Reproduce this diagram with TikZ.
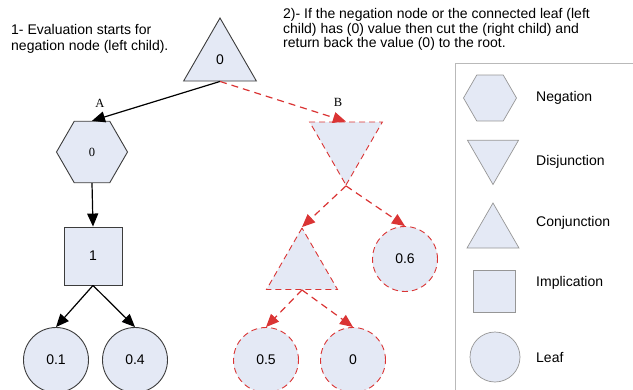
\documentclass[tikz,border=0pt]{standalone}
\usepackage{fontspec}
\setmainfont{Liberation Sans}
\newfontfamily\serifA{Liberation Serif}
\usetikzlibrary{shapes.geometric,arrows.meta}
\definecolor{nodefill}{RGB}{228,233,245}
\definecolor{nodeline}{RGB}{60,60,60}
\definecolor{cutred}{RGB}{218,52,52}
\definecolor{legline}{RGB}{150,150,150}
\definecolor{boxline}{RGB}{185,185,185}
\begin{document}
\begin{tikzpicture}[x=1pt,y=-1pt,
  every node/.style={font=\fontsize{14}{16}\selectfont},
  base/.style={fill=nodefill, draw=nodeline, line width=0.9pt, inner sep=0pt},
  cut/.style={base, draw=cutred, dash pattern=on 6pt off 4pt},
  leg/.style={fill=nodefill, draw=legline, line width=0.7pt, inner sep=0pt},
  hexa/.style={regular polygon, regular polygon sides=6, minimum size=71pt},
  tri/.style={regular polygon, regular polygon sides=3, minimum size=84pt},
  itri/.style={tri, shape border rotate=180},
  sqr/.style={rectangle, minimum size=58pt},
  leaf/.style={circle, minimum size=65pt},
  blk/.style={-{Triangle[length=13pt,width=11pt]}, line width=1.2pt, black},
  red/.style={-{Triangle[length=13pt,width=11pt]}, line width=1.2pt, cutred, dash pattern=on 7pt off 5pt},
  legtext/.style={anchor=west, inner sep=0pt},
  serifl/.style={font=\serifA\fontsize{12.5}{14}\selectfont}
]
\useasboundingbox (0,0) rectangle (633,389);
\clip (0,0) rectangle (633,389);

% texts
\node[anchor=north west, align=left, inner sep=0pt] (t1) at (11,24)
  {1- Evaluation starts for\\negation node (left child).};
\node[anchor=north west, align=left, inner sep=0pt, font=\fontsize{14}{14.8}\selectfont] (t2) at (283,8)
  {2)- If the negation node or the connected leaf (left\\child) has (0) value then cut the (right child) and\\return back the value (0) to the root.};

% left tree
\node[base, tri] (root) at (220,60) {0};
\node[base, hexa, serifl] (neg) at (92,152) {0};
\node[base, sqr] (imp) at (93,256) {1};
\node[base, leaf] (l1) at (56,360) {0.1};
\node[base, leaf] (l4) at (135,360) {0.4};

% right tree
\node[cut, itri, minimum size=84pt] (dis) at (346,143) {};
\node[cut, tri, minimum size=82pt] (con) at (302,269) {};
\node[cut, leaf] (l6) at (405,259) {0.6};
\node[cut, leaf] (l5) at (266,360) {0.5};
\node[cut, leaf] (l0) at (353,360) {0};

% labels
\node[serifl] (lA) at (100,103) {A};
\node[serifl] (lB) at (338,102) {B};

% connectors
\draw[blk] (root.south) -- (neg.north);
\draw[blk] (neg.south) -- (imp.north);
\draw[blk] (imp.south) -- (l1.north);
\draw[blk] (imp.south) -- (l4.north);
\draw[red] (root.south) -- (dis.north);
\draw[red] (dis.south) -- (con.north);
\draw[red] (dis.south) -- (l6.north);
\draw[red] (con.south) -- (l5.north);
\draw[red] (con.south) -- (l0.north);

% legend
\draw[boxline, line width=0.9pt] (455,400) -- (455,63) -- (640,63);
\node[leg, hexa, minimum size=53pt] (gneg) at (490,98) {};
\node[leg, itri, minimum size=59pt] (gdis) at (493,155) {};
\node[leg, tri, minimum size=60pt] (gcon) at (493,233) {};
\node[leg, rectangle, minimum size=42pt] (gimp) at (494,291) {};
\node[leg, circle, minimum size=50pt] (gleaf) at (495,357) {};
\node[legtext] (tneg) at (536,98) {Negation};
\node[legtext] (tdis) at (536,162) {Disjunction};
\node[legtext] (tcon) at (536,223) {Conjunction};
\node[legtext] (timp) at (536,283) {Implication};
\node[legtext] (tleaf) at (536,357) {Leaf};
\end{tikzpicture}
\end{document}
